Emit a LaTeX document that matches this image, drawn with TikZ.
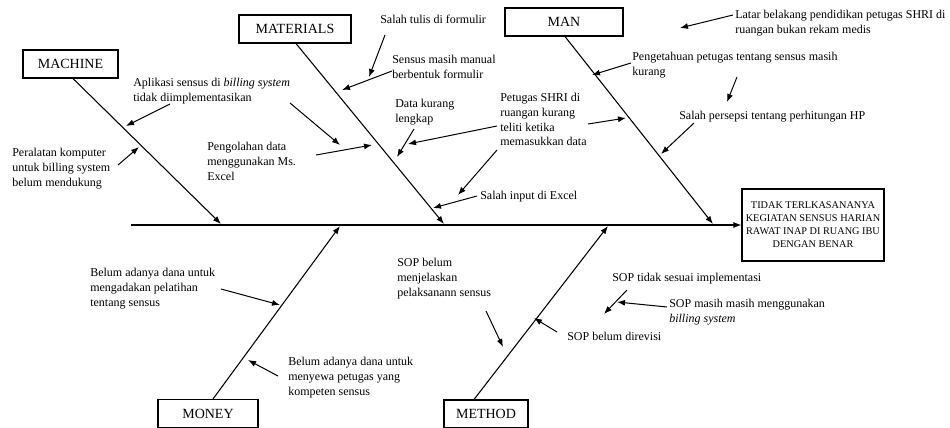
\documentclass[tikz,border=0pt]{standalone}
\usepackage{fontspec}
\setmainfont{Liberation Serif}
\usetikzlibrary{arrows.meta,calc}
\begin{document}
\begin{tikzpicture}[x=0.75pt,y=-0.75pt,
 catbox/.style={draw,line width=0.8pt,minimum height=21pt,inner sep=0pt,font=\fontsize{10.5}{12}\selectfont},
 cause/.style={anchor=base west,align=left,inner sep=0pt,font=\fontsize{9}{10.9}\selectfont},
 bone/.style={line width=0.8pt,-{Latex[length=6pt,width=4.5pt]}},
 ptr/.style={line width=0.75pt,-{Latex[length=6pt,width=4.5pt]}},
]
\useasboundingbox (0,0) rectangle (950,428);

% effect box and spine
\node[draw,line width=0.8pt,minimum width=106.5pt,minimum height=54pt,inner sep=0pt,align=center,
  font=\fontsize{7.7}{9.75}\selectfont] (res) at (813,225)
  {TIDAK TERLKASANANYA\\KEGIATAN SENSUS HARIAN\\RAWAT INAP DI RUANG IBU\\DENGAN BENAR};
\coordinate (spstart) at (131,225);
\draw[bone] (spstart) -- (res.west);

% category boxes
\node[catbox,minimum width=71.25pt] (mach) at (70.5,64) {MACHINE};
\node[catbox,minimum width=84pt] (mat) at (295,29) {MATERIALS};
\node[catbox,minimum width=88.5pt] (man) at (564,22) {MAN};
\node[catbox,minimum width=75pt] (mon) at (208,413.5) {MONEY};
\node[catbox,minimum width=63pt] (meth) at (486,414) {METHOD};

% bone tips on the spine
\coordinate (machtip) at (221,224);
\coordinate (mattip) at (444,224);
\coordinate (mantip) at (713,224);
\coordinate (montip) at (340,226);
\coordinate (methtip) at (608,226);

\draw[bone] ($(mach.south)+(2.5,0)$) -- (machtip);
\draw[bone] ($(mat.south)+(1,0)$) -- (mattip);
\draw[bone] ($(man.south)+(1,0)$) -- (mantip);
\draw[bone] ($(mon.north)+(5,0)$) -- (montip);
\draw[bone] ($(meth.north)+(-12,0)$) -- (methtip);

% cause texts (base = baseline of last line)
\node[cause] (c1) at (133,101.5) {Aplikasi sensus di \textit{billing system}\\tidak diimplementasikan};
\node[cause] (c2) at (12,186) {Peralatan komputer\\untuk billing system\\belum mendukung};
\node[cause] (c3) at (380,24) {Salah tulis di formulir};
\node[cause] (c4) at (392,78.5) {Sensus masih manual\\berbentuk formulir};
\node[cause] (c5) at (207,180) {Pengolahan data\\menggunakan Ms.\\Excel};
\node[cause] (c6) at (395,122.5) {Data kurang\\lengkap};
\node[cause] (c7) at (500,145.6) {Petugas SHRI di\\ruangan kurang\\teliti ketika\\memasukkan data};
\node[cause] (c8) at (480,199) {Salah input di Excel};
\node[cause] (c9) at (735,33.5) {Latar belakang pendidikan petugas SHRI di\\ruangan bukan rekam medis};
\node[cause] (c10) at (632,75.5) {Pengetahuan petugas tentang sensus masih\\kurang};
\node[cause] (c11) at (679,119) {Salah persepsi tentang perhitungan HP};
\node[cause] (c12) at (90,306) {Belum adanya dana untuk\\mengadakan pelatihan\\tentang sensus};
\node[cause] (c13) at (288,395) {Belum adanya dana untuk\\menyewa petugas yang\\kompeten sensus};
\node[cause] (c14) at (397,296) {SOP belum\\menjelaskan\\pelaksanann sensus};
\node[cause] (c15) at (567,340) {SOP belum direvisi};
\node[cause] (c16) at (612,281) {SOP tidak sesuai implementasi};
\node[cause] (c17) at (669,322.5) {SOP masih masih menggunakan\\\textit{billing system}};

% arrow end points
\coordinate (a1s) at (170,104);  \coordinate (a1e) at (126,126);
\coordinate (a2s) at (118,165);  \coordinate (a2e) at (139,147);
\coordinate (a3s) at (385,35);   \coordinate (a3e) at (369,77);
\coordinate (a4s) at (392,71);   \coordinate (a4e) at (342,90);
\coordinate (a5s) at (290,103);  \coordinate (a5e) at (340,145);
\coordinate (a6s) at (316,155);  \coordinate (a6e) at (372,145);
\coordinate (a7s) at (414,129);  \coordinate (a7e) at (397,157);
\coordinate (a8s) at (497,126);  \coordinate (a8e) at (408,144);
\coordinate (a9s) at (588,124);  \coordinate (a9e) at (626,118);
\coordinate (a10s) at (497,150); \coordinate (a10e) at (458,195);
\coordinate (a11s) at (477,196); \coordinate (a11e) at (433,208);
\coordinate (a12s) at (733,15);  \coordinate (a12e) at (680,28);
\coordinate (a13s) at (631,63);  \coordinate (a13e) at (592,75);
\coordinate (a14s) at (737,77);  \coordinate (a14e) at (727,102);
\coordinate (a15s) at (694,123); \coordinate (a15e) at (661,154);
\coordinate (a16s) at (221,289); \coordinate (a16e) at (280,305);
\coordinate (a17s) at (278,376); \coordinate (a17e) at (248,360);
\coordinate (a18s) at (486,311); \coordinate (a18e) at (503,347);
\coordinate (a19s) at (557,332); \coordinate (a19e) at (534,318);
\coordinate (a20s) at (627,290); \coordinate (a20e) at (604,314);
\coordinate (a21s) at (667,307); \coordinate (a21e) at (617,302);

\foreach \i in {1,...,21} {\draw[ptr] (a\i s) -- (a\i e);}
\end{tikzpicture}
\end{document}
